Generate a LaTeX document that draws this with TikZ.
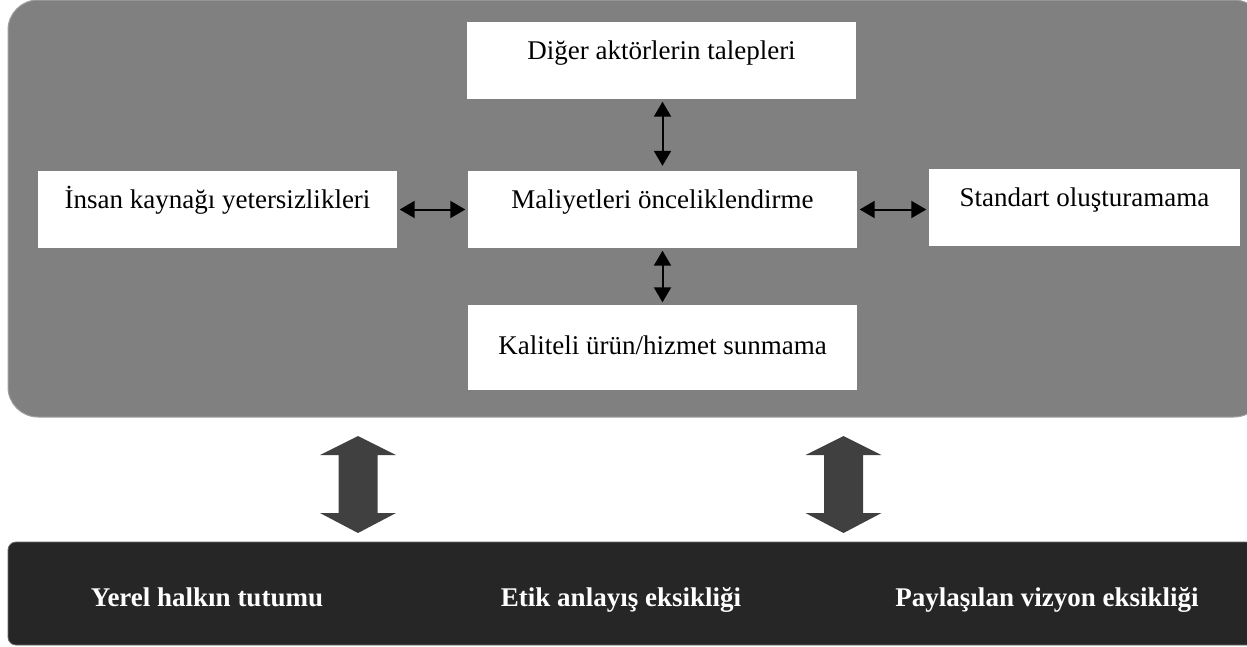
\documentclass[tikz,border=0pt]{standalone}
\usepackage{fontspec}
\setmainfont{Liberation Serif}
\usetikzlibrary{arrows.meta}
\definecolor{panelgray}{HTML}{808080}
\definecolor{paneledge}{HTML}{A0A0A0}
\definecolor{basedark}{HTML}{262626}
\definecolor{baseedge}{HTML}{6A6A6A}
\definecolor{arrowdark}{HTML}{404040}
\begin{document}
\begin{tikzpicture}[x=1pt,y=-1pt,
  box/.style={fill=white, inner sep=0pt, minimum height=77pt, text height=19pt, text depth=22pt,
    font=\fontsize{27}{30}\selectfont},
  link/.style={line width=2pt, {Triangle[length=15pt,width=17pt]}-{Triangle[length=15pt,width=17pt]},
    shorten <=2.5pt, shorten >=2.5pt},
  basetext/.style={text=white, inner sep=0pt, anchor=base, font=\fontsize{27}{30}\selectfont\bfseries},
  bigarrow/.pic={\fill[arrowdark] (0,0) -- (38,19) -- (19.5,19) -- (19.5,77) -- (38,77) -- (0,97)
      -- (-38,77) -- (-19.5,77) -- (-19.5,19) -- (-38,19) -- cycle;},
]
\useasboundingbox (0,0) rectangle (1247,646);
\begin{scope}
  \clip (0,0) rectangle (1247,646);
  % upper panel and lower band
  \draw[fill=panelgray, draw=paneledge, line width=1pt, rounded corners=30pt] (8,0) rectangle (1264,417);
  \draw[fill=basedark, draw=baseedge, line width=0.8pt, rounded corners=8pt] (8,542) rectangle (1264,645);
\end{scope}

% factor boxes
\node[box, minimum width=389pt] (demands) at (661.5,60.5) {Diğer aktörlerin talepleri};
\node[box, minimum width=359pt] (staff) at (217.5,209.5) {İnsan kaynağı yetersizlikleri};
\node[box, minimum width=389pt] (costs) at (662.5,209.5) {Maliyetleri önceliklendirme};
\node[box, minimum width=311pt] (standard) at (1084.5,207.5) {Standart oluşturamama};
\node[box, minimum width=389pt, minimum height=85pt, text depth=6pt] (quality) at (662.5,347.5) {Kaliteli ürün/hizmet sunmama};

% links between factors
\draw[link] (staff.east |- costs.west) -- (costs.west);
\draw[link] (costs.east) -- (standard.west |- costs.east);
\draw[link, shorten >=5pt] (costs.north |- demands.south) -- (costs.north);
\draw[link] (costs.south) -- (quality.north);

% two-way arrows between panel and band
\pic at (358,436) {bigarrow};
\pic at (843.5,436) {bigarrow};

% band labels
\node[basetext] (attitude) at (207,606) {Yerel halkın tutumu};
\node[basetext] (ethics) at (621,606) {Etik anlayış eksikliği};
\node[basetext] (vision) at (1047,606) {Paylaşılan vizyon eksikliği};
\end{tikzpicture}
\end{document}
